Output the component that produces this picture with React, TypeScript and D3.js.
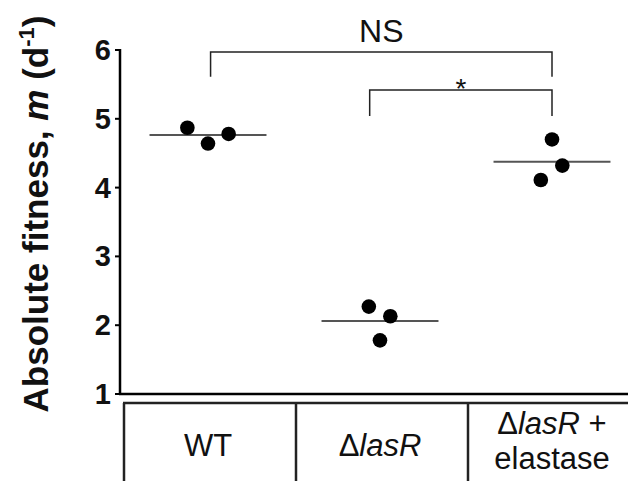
import React from 'react';
import * as d3 from 'd3';

const categories = ['WT', 'lasR', 'lasR_elastase'];
const wtValues = [4.87, 4.64, 4.78];
const lasRValues = [2.27, 2.13, 1.78];
const elastaseValues = [4.70, 4.32, 4.11];
// horizontal jitter of each replicate, as a fraction of the category width
const wtJitter = [-0.12, 0, 0.12];
const lasRJitter = [-0.065, 0.06, 0];
const elastaseJitter = [0, 0.06, -0.065];
const yTicks = [1, 2, 3, 4, 5, 6];
const brackets = [
  { from: 'WT', fromShift: 0.015, to: 'lasR_elastase', top: 5.97, leg: 5.61, label: 'NS' },
  { from: 'lasR', fromShift: -0.06, to: 'lasR_elastase', top: 5.42, leg: 5.04, label: '*' },
];

const W = 628;
const H = 481;
const font = 'Liberation Sans, Arial, Helvetica, sans-serif';

const App = () => {
  const series = [
    { key: 'WT', values: wtValues, jitter: wtJitter },
    { key: 'lasR', values: lasRValues, jitter: lasRJitter },
    { key: 'lasR_elastase', values: elastaseValues, jitter: elastaseJitter },
  ];

  const y = d3.scaleLinear().domain([1, 6]).range([394, 50]);
  const x = d3.scaleBand().domain(categories).range([122, 638]);
  const bw = x.bandwidth();
  const cx = (c) => x(c) + bw / 2;
  const axisX = 120;
  const tableTop = 403;

  return (
    <svg width={W} height={H} style={{ position: 'absolute', left: 0, top: 0, background: '#fff' }} fontFamily={font}>
      {/* y axis title */}
      <text
        transform={`translate(48,${y(3.5) - 8}) rotate(-90)`}
        textAnchor="middle"
        fontSize={35}
        fontWeight="bold"
        fill="#111"
      >
        Absolute fitness, <tspan fontStyle="italic">m</tspan> (d
        <tspan fontSize={22} dy={-14}>-1</tspan>
        <tspan dy={14}>)</tspan>
      </text>

      {/* y axis */}
      <line x1={axisX} x2={axisX} y1={y(6) - 1} y2={y(1)} stroke="#000" strokeWidth={2.5} />
      <line x1={axisX - 1} x2={W} y1={y(1)} y2={y(1)} stroke="#000" strokeWidth={2.5} />
      {yTicks.map((t) => (
        <g key={t}>
          <line x1={axisX - 5} x2={axisX} y1={y(t)} y2={y(t)} stroke="#000" strokeWidth={2} />
          <text x={axisX - 9} y={y(t) + 10} textAnchor="end" fontSize={29} fontWeight="bold" fill="#111">
            {t}
          </text>
        </g>
      ))}

      {/* category table */}
      <g stroke="#222" strokeWidth={2.5} fill="none">
        <line x1={x('WT') + 1} x2={W} y1={tableTop} y2={tableTop} />
        {categories.map((c) => (
          <line key={c} x1={x(c) + 2} x2={x(c) + 2} y1={tableTop} y2={H} />
        ))}
      </g>
      <g fontSize={31} fill="#111" textAnchor="middle">
        <text x={cx('WT')} y={456}>WT</text>
        <text x={cx('lasR')} y={456}>
          Δ<tspan fontStyle="italic">lasR</tspan>
        </text>
        <text x={cx('lasR_elastase')} y={434}>
          Δ<tspan fontStyle="italic">lasR</tspan> +
        </text>
        <text x={cx('lasR_elastase')} y={469}>elastase</text>
      </g>

      {/* means and replicates */}
      {series.map((s) => {
        const m = d3.mean(s.values);
        return (
          <g key={s.key}>
            <line
              x1={x(s.key) + bw * 0.16}
              x2={x(s.key) + bw * 0.84}
              y1={y(m)}
              y2={y(m)}
              stroke="#555"
              strokeWidth={2}
            />
            {s.values.map((v, i) => (
              <circle key={i} cx={cx(s.key) + s.jitter[i] * bw} cy={y(v)} r={7.3} fill="#000" />
            ))}
          </g>
        );
      })}

      {/* significance brackets */}
      {brackets.map((b) => {
        const x1 = cx(b.from) + b.fromShift * bw;
        const x2 = cx(b.to);
        const path = d3.path();
        path.moveTo(x1, y(b.leg));
        path.lineTo(x1, y(b.top));
        path.lineTo(x2, y(b.top));
        path.lineTo(x2, y(b.leg));
        return (
          <g key={b.label}>
            <path d={path.toString()} fill="none" stroke="#222" strokeWidth={1.5} />
            <text
              x={(x1 + x2) / 2}
              y={b.label === '*' ? y(b.top) + 8 : y(b.top) - 10}
              textAnchor="middle"
              fontSize={b.label === '*' ? 28 : 32}
              fill="#111"
            >
              {b.label}
            </text>
          </g>
        );
      })}
    </svg>
  );
};

export default App;
